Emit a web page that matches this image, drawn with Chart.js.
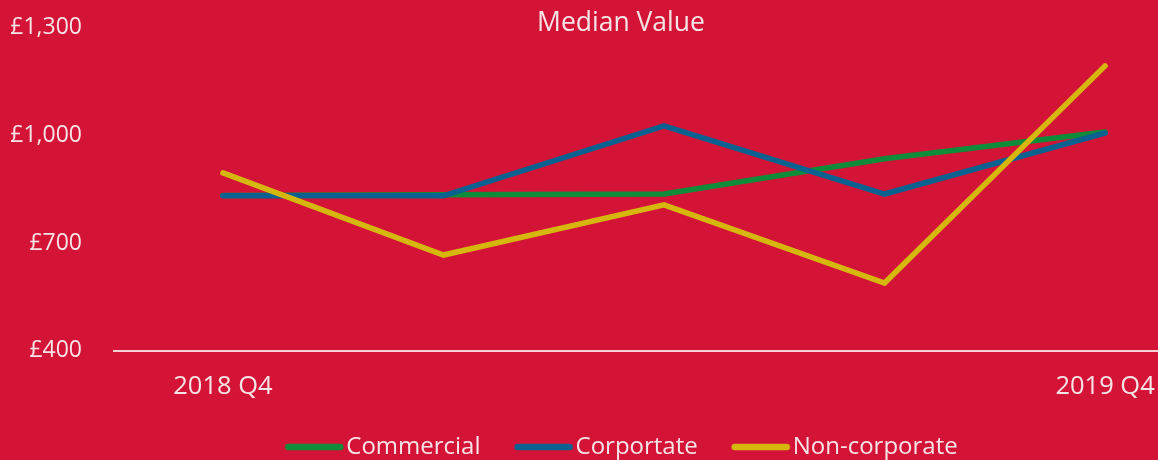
<!DOCTYPE html>
<html>
<head>
<meta charset="utf-8">
<script src="https://cdn.jsdelivr.net/npm/chart.js@4"></script>
<style>
  html, body { margin: 0; padding: 0; background: #d41437; }
  .wrap { width: 1158px; height: 460px; }
</style>
</head>
<body>
<div class="wrap"><canvas id="chart"></canvas></div>
<script>
const quarters = ['2018 Q4', '2019 Q1', '2019 Q2', '2019 Q3', '2019 Q4'];
const shownTicks = [0, 4];
const commercial = [833, 835, 837, 935, 1010];
const corportate = [832, 832, 1027, 837, 1007];
const nonCorporate = [896, 667, 807, 589, 1194];
const yTicks = [400, 700, 1000, 1300];

const textColor = '#f6e4e7';
const canvas = document.querySelector('#chart');

let toPoints = (values) => values.map((v, i) => ({ x: i, y: v }));

let makeSet = (label, values, color, order) => ({
    label: label,
    data: toPoints(values),
    borderColor: color,
    backgroundColor: color,
    borderWidth: 5.5,
    borderCapStyle: 'round',
    pointRadius: 0,
    tension: 0,
    order: order,
});

// legend swatch: a short rounded line, shifted right so it sits close to the text
let makeSwatch = (color) => {
    const c = document.createElement('canvas');
    c.width = 70;
    c.height = 10;
    const ctx = c.getContext('2d');
    ctx.strokeStyle = color;
    ctx.lineWidth = 6.5;
    ctx.lineCap = 'round';
    ctx.beginPath();
    ctx.moveTo(14, 5);
    ctx.lineTo(66, 5);
    ctx.stroke();
    return c;
};

Chart.defaults.font.family = '"Open Sans", sans-serif';
Chart.defaults.color = textColor;

new Chart(canvas, {
    type: 'line',
    data: {
        datasets: [
            makeSet('Commercial', commercial, '#0f8c39', 3),
            makeSet('Corportate', corportate, '#0b6190', 2),
            makeSet('Non-corporate', nonCorporate, '#d6b70e', 1),
        ],
    },
    options: {
        animation: false,
        maintainAspectRatio: false,
        layout: { padding: { left: 84, right: 0, top: 0, bottom: -9 } },
        plugins: {
            title: {
                display: true,
                text: 'Median Value',
                color: textColor,
                font: { size: 26.5, weight: 'normal' },
                padding: { top: 8, bottom: -12 },
            },
            legend: {
                position: 'bottom',
                labels: {
                    color: textColor,
                    font: { size: 24 },
                    usePointStyle: true,
                    pointStyleWidth: 50,
                    boxHeight: 7,
                    padding: 33,
                    sort: (a, b) => a.datasetIndex - b.datasetIndex,
                    generateLabels: (chart) => chart.data.datasets.map((ds, i) => ({
                        text: ds.label,
                        fillStyle: ds.borderColor,
                        strokeStyle: ds.borderColor,
                        lineWidth: 0,
                        fontColor: textColor,
                        datasetIndex: i,
                        pointStyle: makeSwatch(ds.borderColor),
                    })),
                },
            },
            tooltip: { enabled: false },
        },
        scales: {
            x: {
                type: 'linear',
                min: -0.494,
                max: 4.24,
                grid: { display: false, drawTicks: true, tickLength: 20.5 },
                border: { display: true, color: 'rgba(255,255,255,0.8)', width: 2 },
                afterBuildTicks: (axis) => {
                    axis.ticks = shownTicks.map((v) => ({ value: v }));
                },
                ticks: {
                    color: textColor,
                    font: { size: 25.5 },
                    padding: 0,
                    maxRotation: 0,
                    callback: (v) => quarters[v],
                },
            },
            y: {
                min: 400,
                max: 1300,
                grid: { display: false, drawTicks: true, tickLength: 29 },
                border: { display: false },
                afterBuildTicks: (axis) => {
                    axis.ticks = yTicks.map((v) => ({ value: v }));
                },
                afterFit: (axis) => {
                    axis.width = 30;
                    // labels hang out to the left of this narrow axis box, so don't clip them
                    axis._computeLabelArea = () => undefined;
                },
                ticks: {
                    color: textColor,
                    font: { size: 23 },
                    padding: 3,
                    callback: (v) => '£' + v.toLocaleString('en-GB'),
                },
            },
        },
    },
});
</script>
</body>
</html>
